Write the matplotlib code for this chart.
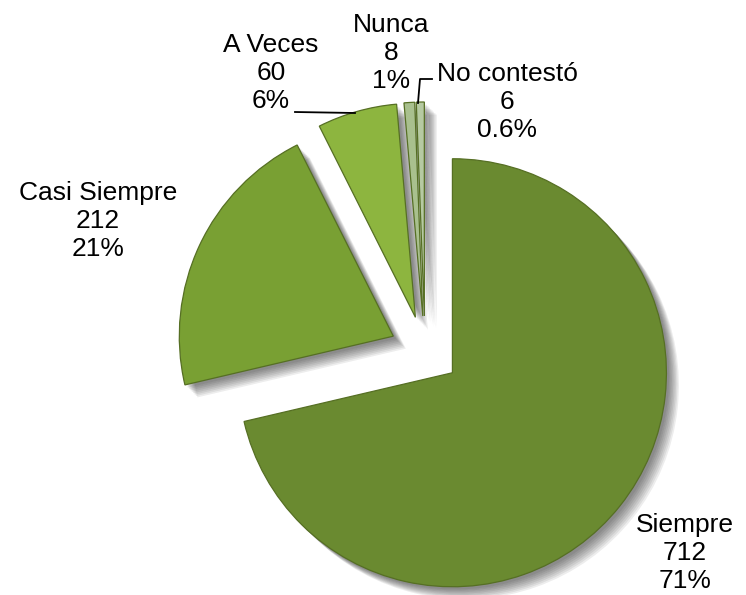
import matplotlib
matplotlib.use("Agg")
import matplotlib.pyplot as plt
import matplotlib.patheffects as pe

# data
categories = ["Siempre", "Casi Siempre", "A Veces", "Nunca", "No contestó"]
counts = [712, 212, 60, 8, 6]
pct_labels = ["71%", "21%", "6%", "1%", "0.6%"]
colors = ["#6a8a30", "#79a033", "#8db53f", "#a9c08e", "#b6caa2"]

# figure in pixel coordinates (y downwards)
fig = plt.figure(figsize=(7.46, 5.95), dpi=100)
ax = fig.add_axes([0, 0, 1, 1])
ax.axis("off")

# soft drop shadow, built from a few faint offset copies
shadow = [pe.SimplePatchShadow(offset=(o, -o), shadow_rgbFace="k", alpha=0.07)
          for o in (2, 3, 4, 5, 6, 7, 8, 9)] + [pe.Normal()]

# explode is in data units here (radius is in pixels)
wedges, _ = ax.pie(counts, colors=colors, startangle=-90, counterclock=True,
                   radius=214, center=(425, 351), explode=[35] * len(counts),
                   frame=True,
                   wedgeprops=dict(edgecolor="#566f24", linewidth=0.9))
for w in wedges:
    w.set_path_effects(shadow)
ax.set_xlim(0, 746)
ax.set_ylim(595, 0)
ax.set_aspect("equal")
ax.axis("off")

# data labels (placed where the reference puts them)
label_pos = [(685, 553), (98, 221), (271, 73), (391, 53), (507, 102)]
for name, n, p, (x, y) in zip(categories, counts, pct_labels, label_pos):
    ax.text(x, y, f"{name}\n{n}\n{p}", ha="center", va="center",
            fontsize=19, family="Liberation Sans", linespacing=1.22)

# leader lines
ax.plot([295, 355], [112, 113], color="black", lw=1.3)
ax.plot([418, 420, 432], [103, 79, 79], color="black", lw=1.3)

fig.savefig("out.png", dpi=100)
